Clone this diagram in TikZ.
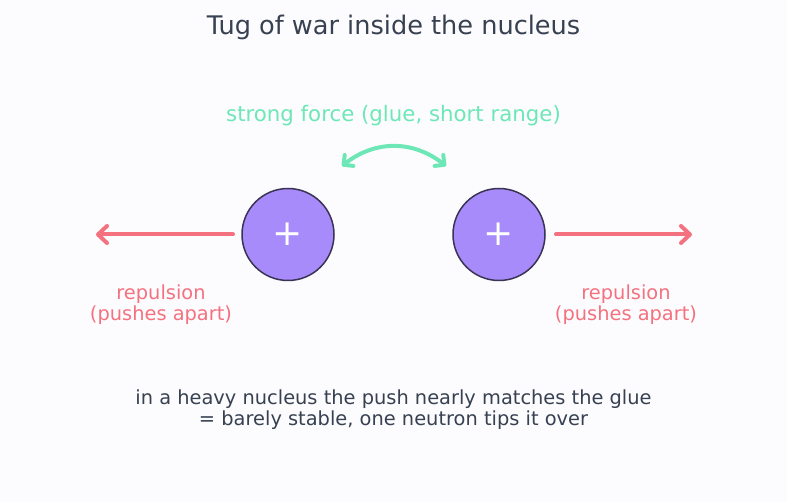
\documentclass[tikz,border=0pt]{standalone}
\usepackage{fontspec}
\setmainfont{DejaVu Sans}
\usetikzlibrary{arrows.meta}
\definecolor{bg}{HTML}{FCFCFE}
\definecolor{ink}{HTML}{374151}
\definecolor{glue}{HTML}{6EE7B7}
\definecolor{push}{HTML}{F4727F}
\definecolor{proton}{HTML}{A78BFA}
\definecolor{rim}{HTML}{3B3355}
\tikzset{
  every node/.style={inner sep=0pt, outer sep=0pt},
  title/.style={text=ink, font=\fontsize{25.6}{30}\selectfont},
  gluetext/.style={text=glue, font=\fontsize{21.3}{25}\selectfont},
  pushtext/.style={text=push, font=\fontsize{19.4}{21.5}\selectfont, align=center},
  note/.style={text=ink, font=\fontsize{19.4}{21.5}\selectfont, align=center},
  protonnode/.style={circle, minimum size=92pt, fill=proton, draw=rim, line width=1.5pt, text=white, font=\fontsize{36}{36}\selectfont},
  pusharrow/.style={draw=push, line width=4pt, line cap=round, -{Straight Barb[length=9pt, width=17pt, line cap=round, line join=round]}},
  gluearrow/.style={draw=glue, line width=4pt, line cap=round, {Straight Barb[length=7pt, width=14pt, line cap=round, line join=round]}-{Straight Barb[length=7pt, width=14pt, line cap=round, line join=round]}}
}
\begin{document}
\begin{tikzpicture}[x=1pt, y=-1pt]
\fill[bg] (0,0) rectangle (787,502);
\useasboundingbox (0,0) rectangle (787,502);
\node[title] (t) at (393.5,27.5) {Tug of war inside the nucleus};
\node[gluetext] (g) at (393.5,115.5) {strong force (glue, short range)};
\node[protonnode] (p1) at (288,234.5) {+};
\node[protonnode] (p2) at (499,234.5) {+};
\coordinate (la) at (233,234.5);
\coordinate (lb) at (96,234.5);
\coordinate (ra) at (556,234.5);
\coordinate (rb) at (692,234.5);
\draw[pusharrow] (la) -- (lb);
\draw[pusharrow] (ra) -- (rb);
\coordinate (ga) at (342,166);
\coordinate (gb) at (446,166);
\draw[gluearrow] (ga) .. controls (375,140) and (413,140) .. (gb);
\node[pushtext] (r1) at (161,304.5) {repulsion\\(pushes apart)};
\node[pushtext] (r2) at (626,304.5) {repulsion\\(pushes apart)};
\node[note] (n) at (393.5,409.5) {in a heavy nucleus the push nearly matches the glue\\= barely stable, one neutron tips it over};
\end{tikzpicture}
\end{document}
